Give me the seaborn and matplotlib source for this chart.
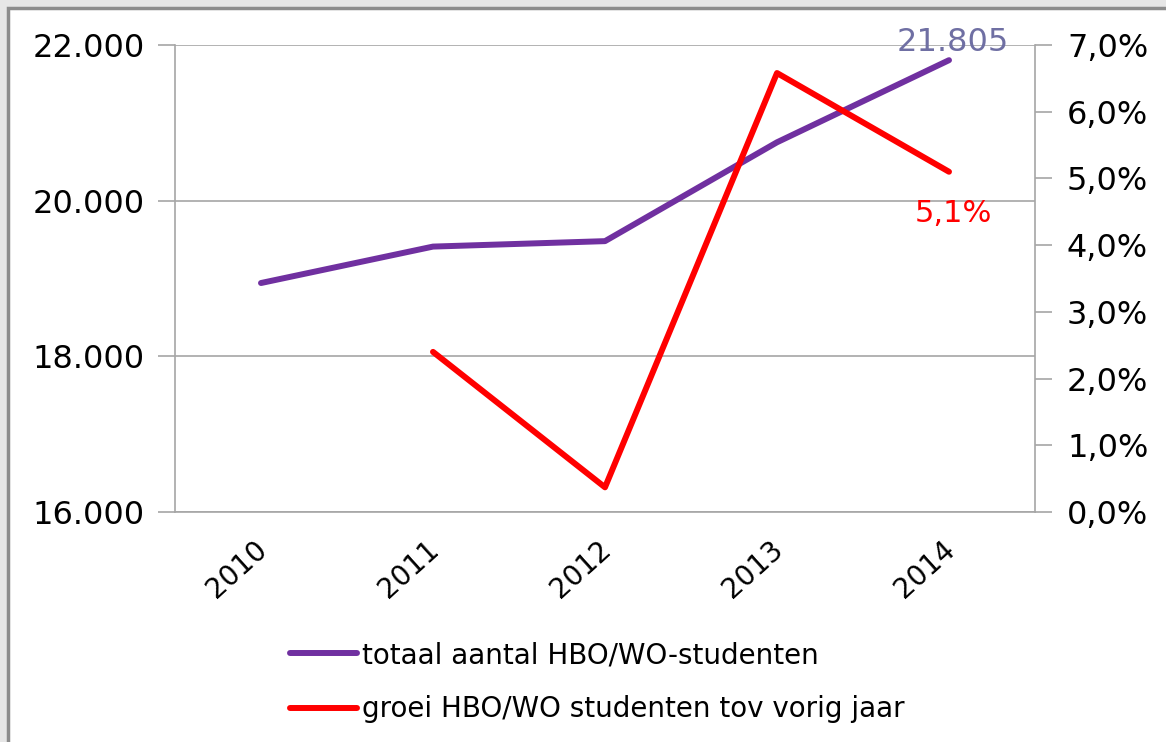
import numpy as np
import pandas as pd
import matplotlib.pyplot as plt
import seaborn as sns
from matplotlib.ticker import FuncFormatter, FixedLocator
from matplotlib.transforms import ScaledTranslation
from matplotlib.patches import Rectangle

years = ["2010", "2011", "2012", "2013", "2014"]
students = [18942, 19410, 19480, 20750, 21805]
growth = [np.nan, 2.4, 0.37, 6.58, 5.1]
label_total = "totaal aantal HBO/WO-studenten"
label_growth = "groei HBO/WO studenten tov vorig jaar"

purple = "#7030a0"
red = "#ff0000"
grid_grey = "#a6a6a6"

sns.set_style("white")
plt.rcParams["font.family"] = ["DejaVu Sans"]
plt.rcParams["text.color"] = "black"
plt.rcParams["xtick.color"] = "black"
plt.rcParams["ytick.color"] = "black"

df = pd.DataFrame({"pos": np.arange(len(years)), "year": years,
                   "students": students, "growth": growth})

fig = plt.figure(figsize=(11.66, 7.42), dpi=100, facecolor="#e6e6e6")
frame = Rectangle((8 / 1166, -0.1), 1.2, 1.1 - 8 / 742,
                  transform=fig.transFigure, facecolor="white",
                  edgecolor="#8c8c8c", linewidth=2.5, zorder=-10)
fig.patches.append(frame)
ax = fig.add_axes([175 / 1166, 1 - 512 / 742, 860 / 1166, 467 / 742])
ax.set_facecolor("none")
ax2 = ax.twinx()

sns.lineplot(data=df, x="pos", y="students", ax=ax, color=purple, lw=4.3,
             label=label_total, legend=False)
sns.lineplot(data=df.dropna(), x="pos", y="growth", ax=ax2, color=red, lw=4.3,
             label=label_growth, legend=False)
for ln in ax.lines + ax2.lines:
    ln.set_solid_capstyle("round")

ax.set_xlim(-0.5, len(years) - 0.5)
ax.set_ylim(16000, 22000)
ax2.set_ylim(0, 7)
ax.set_yticks([16000, 18000, 20000, 22000])
ax2.set_yticks(np.arange(0, 8))
ax.yaxis.set_major_formatter(FuncFormatter(lambda v, p: f"{int(v):,}".replace(",", ".")))
ax2.yaxis.set_major_formatter(FuncFormatter(lambda v, p: f"{v:.1f}".replace(".", ",") + "%"))
ax.grid(axis="y", color=grid_grey, lw=1.2)
ax.set_xlabel("")
ax.set_ylabel("")
ax2.set_ylabel("")

ax.set_xticks(np.arange(len(years)))
ax.set_xticklabels(years)
ax.xaxis.set_minor_locator(FixedLocator(np.arange(-0.5, len(years), 1)))
ax.tick_params(axis="x", which="major", length=0, pad=24, labelsize=20)
ax.tick_params(axis="x", which="minor", length=8, width=1.2, color=grid_grey, direction="out")
ax.tick_params(axis="y", length=12, width=1.2, color=grid_grey, direction="out", pad=10,
               labelsize=23, labelcolor="black")
ax2.tick_params(axis="y", length=12, width=1.2, color=grid_grey, direction="out", pad=11,
                labelsize=23, labelcolor="black")
for lab in ax.get_xticklabels():
    lab.set_rotation(42)
    lab.set_ha("right")
    lab.set_va("center")
    lab.set_rotation_mode("anchor")
    lab.set_color("black")
    lab.set_transform(lab.get_transform() + ScaledTranslation(0.02, 0, fig.dpi_scale_trans))

for a in (ax, ax2):
    for s in a.spines.values():
        s.set_visible(False)
ax.spines["left"].set_visible(True)
ax.spines["bottom"].set_visible(True)
ax2.spines["right"].set_visible(True)
for sp in (ax.spines["left"], ax.spines["bottom"], ax2.spines["right"]):
    sp.set_color(grid_grey)
    sp.set_linewidth(1.2)

last = len(years) - 1
ax.annotate(f"{students[last]:,}".replace(",", "."), (last, students[last]),
            xytext=(3, 13), textcoords="offset points", ha="center", va="center",
            color="#6f6fa3", fontsize=23)
ax2.annotate(f"{growth[last]:.1f}".replace(".", ",") + "%", (last, growth[last]),
             xytext=(3, -30), textcoords="offset points", ha="center", va="center",
             color=red, fontsize=22)

handles = ax.lines[:1] + ax2.lines[:1]
fig.legend(handles, [label_total, label_growth], loc="upper left",
           bbox_to_anchor=(265 / 1166, 1 - 616 / 742), frameon=False,
           fontsize=20, handlelength=2.4, handletextpad=0.2, labelspacing=0.95)

fig.savefig("out.png", dpi=100, facecolor=fig.get_facecolor())
